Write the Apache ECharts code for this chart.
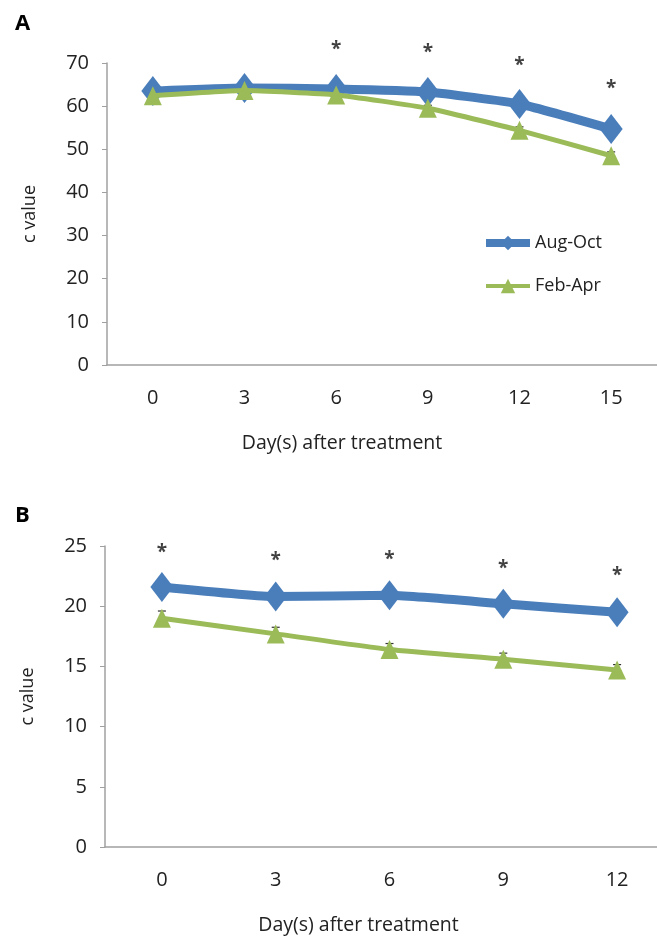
<!DOCTYPE html>
<html><head><meta charset="utf-8">
<script src="https://cdn.jsdelivr.net/npm/echarts@6/dist/echarts.min.js"></script>
<style>html,body{margin:0;padding:0;background:#fff}#c{width:657px;height:940px}</style>
</head><body><div id="c"></div>
<script>
const daysA = ['0','3','6','9','12','15'];
const augOctA = [63.5, 64.2, 64.0, 63.3, 60.5, 54.7];
const febAprA = [62.4, 63.6, 62.6, 59.5, 54.4, 48.5];
const febAprErrA = [0.4, 0.4, 0.4, 0.7, 0.8, 0.9];
const starsA = [null, null, 73.9, 73.0, 70.2, 64.7];

const daysB = ['0','3','6','9','12'];
const augOctB = [21.6, 20.8, 20.9, 20.2, 19.5];
const febAprB = [19.0, 17.7, 16.4, 15.6, 14.7];
const febAprErrB = [0.6, 0.55, 0.5, 0.5, 0.45];
const starsB = [24.7, 24.0, 24.1, 23.4, 22.8];

const yTicksA = {min: 0, max: 70, interval: 10};
const yTicksB = {min: 0, max: 25, interval: 5};

const FONT = 'Open Sans';
const BLUE = '#4a7ebb', GREEN = '#9bbb59', AXIS = '#a0a0a0', TXT = '#222';

function xAxis(idx, cats, nameShift){
  return {type:'category', gridIndex:idx, data:cats, boundaryGap:true,
    axisLine:{lineStyle:{color:AXIS, width:1.5}}, axisTick:{show:false},
    axisLabel:{color:TXT, fontSize:20, fontFamily:FONT, margin:23},
    name:'Day(s) after treatment', nameLocation:'middle', nameGap:68,
    nameTextStyle:{color:TXT, fontSize:19.5, fontFamily:FONT, padding:[0, nameShift*2, 0, 0]}};
}
function yAxis(idx, t){
  return {type:'value', gridIndex:idx, min:t.min, max:t.max, interval:t.interval,
    axisLine:{show:true, lineStyle:{color:AXIS, width:1.5}},
    axisTick:{show:true, length:5, lineStyle:{color:AXIS}},
    splitLine:{show:false},
    axisLabel:{color:TXT, fontSize:20, fontFamily:FONT, margin:18},
    name:'c value', nameLocation:'middle', nameGap:68, nameRotate:90,
    nameTextStyle:{color:TXT, fontSize:18, fontFamily:FONT}};
}
function errSeries(idx, vals, errs){
  return {type:'custom', xAxisIndex:idx, yAxisIndex:idx, z:1, silent:true,
    data: vals.map((v,i)=>[i, v-errs[i], v+errs[i]]),
    renderItem:function(params, api){
      const lo = api.coord([api.value(0), api.value(1)]);
      const hi = api.coord([api.value(0), api.value(2)]);
      const w = 4;
      return {type:'group', children:[
        {type:'line', shape:{x1:lo[0],y1:lo[1],x2:hi[0],y2:hi[1]}, style:{stroke:'#333', lineWidth:1}},
        {type:'line', shape:{x1:hi[0]-w,y1:hi[1],x2:hi[0]+w,y2:hi[1]}, style:{stroke:'#333', lineWidth:1.2}},
        {type:'line', shape:{x1:lo[0]-w,y1:lo[1],x2:lo[0]+w,y2:lo[1]}, style:{stroke:'#333', lineWidth:1.2}}
      ]};
    }};
}
function starSeries(idx, vals){
  return {type:'scatter', xAxisIndex:idx, yAxisIndex:idx, clip:false, silent:true,
    symbolSize:1, itemStyle:{color:'rgba(0,0,0,0)'},
    data: vals.map((v,i)=> v==null ? null : [i, v]),
    label:{show:true, position:'inside', offset:[0,3], formatter:'*', color:'#111', fontSize:19, fontWeight:'bold', fontFamily:FONT}};
}
function blueSeries(idx, vals){
  return {name:'Aug-Oct', type:'line', xAxisIndex:idx, yAxisIndex:idx, data:vals, z:3,
    symbol:'diamond', symbolSize:[23,30], smooth:0.15,
    lineStyle:{color:BLUE, width:9}, itemStyle:{color:BLUE}};
}
function greenSeries(idx, vals){
  return {name:'Feb-Apr', type:'line', xAxisIndex:idx, yAxisIndex:idx, data:vals, z:4,
    symbol:'triangle', symbolSize:[18,19], smooth:0.15,
    lineStyle:{color:GREEN, width:5}, itemStyle:{color:GREEN}};
}

const chart = echarts.init(document.getElementById('c'), null, {renderer:'canvas'});
chart.setOption({
  backgroundColor:'#fff',
  animation:false,
  title:[
    {text:'A', left:10, top:8, textStyle:{fontSize:22, fontWeight:'bold', color:'#000', fontFamily:FONT}},
    {text:'B', left:10, top:500, textStyle:{fontSize:22, fontWeight:'bold', color:'#000', fontFamily:FONT}}
  ],
  legend:{orient:'vertical', left:482, top:234, padding:0, itemGap:25, itemWidth:44, itemHeight:18,
    data:[
      {name:'Aug-Oct', lineStyle:{width:8}},
      {name:'Feb-Apr', lineStyle:{width:4}}
    ],
    textStyle:{color:TXT, fontSize:18, fontFamily:FONT}},
  grid:[
    {left:107, top:63, width:550, height:302, outerBoundsMode:'none'},
    {left:105, top:546, width:569, height:301, outerBoundsMode:'none'}
  ],
  xAxis:[xAxis(0, daysA, 40), xAxis(1, daysB, 31)],
  yAxis:[yAxis(0, yTicksA), yAxis(1, yTicksB)],
  series:[
    errSeries(0, febAprA, febAprErrA),
    blueSeries(0, augOctA),
    greenSeries(0, febAprA),
    starSeries(0, starsA),
    errSeries(1, febAprB, febAprErrB),
    blueSeries(1, augOctB),
    greenSeries(1, febAprB),
    starSeries(1, starsB)
  ]
});
</script></body></html>
